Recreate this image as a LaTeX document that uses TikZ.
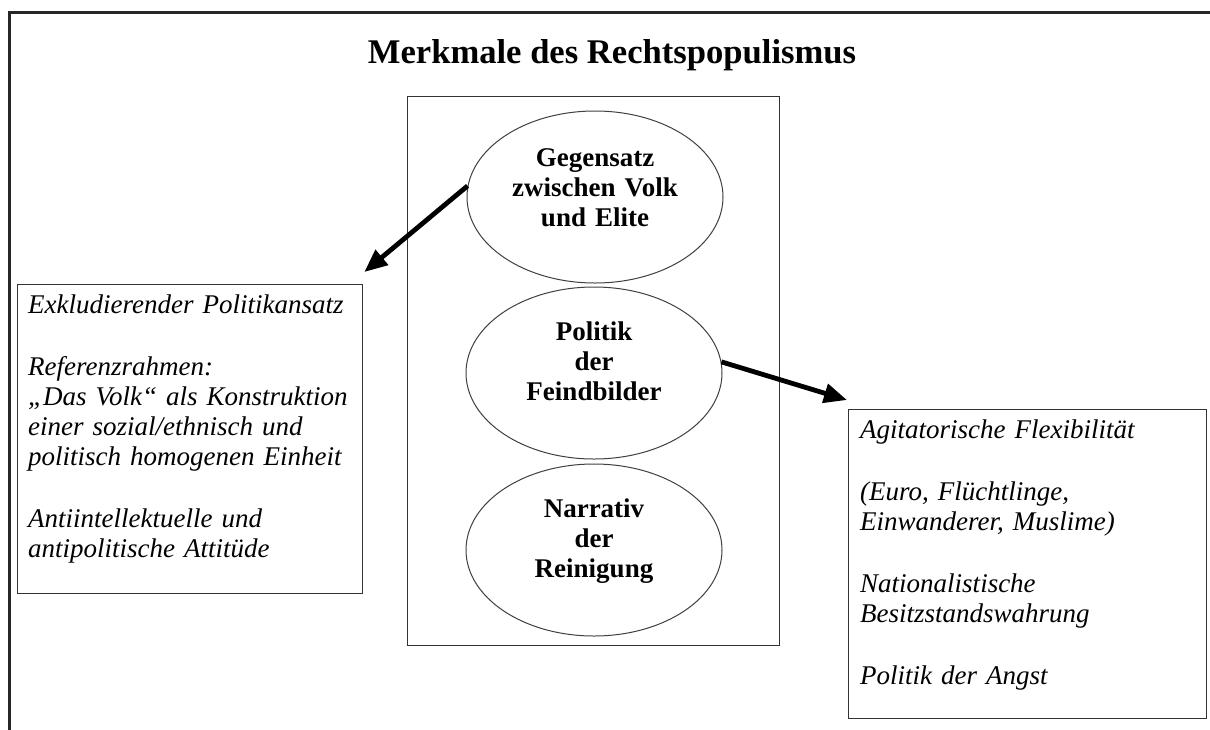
\documentclass[tikz,border=0pt]{standalone}
\usepackage{fontspec}
\setmainfont{Liberation Serif}
\newfontfamily\boxfont{Liberation Serif}[WordSpace={0.6,0.3,0.3}]
\usetikzlibrary{shapes.geometric,arrows.meta,calc}
\begin{document}
\begin{tikzpicture}[x=1pt,y=-1pt,
  frameline/.style={line width=3pt,draw=black!85},
  boxnode/.style={draw=black!80,line width=1.3pt,rectangle,inner sep=0pt},
  ellnode/.style={draw=black!75,line width=1pt,ellipse,inner sep=0pt,minimum width=256pt,minimum height=172pt},
  elltext/.style={font=\fontsize{27}{30}\selectfont\bfseries,text width=250pt,align=center,inner sep=0pt,anchor=base},
  boxtext/.style={font=\boxfont\fontsize{27}{30}\selectfont\itshape,align=left,inner sep=0pt,anchor=base west},
  titletext/.style={font=\fontsize{34.6}{40}\selectfont\bfseries,inner sep=0pt,anchor=base},
  bigarrow/.style={line width=4.8pt,-{Triangle[length=23pt,width=19pt]}}
]
\useasboundingbox (0,0) rectangle (1210,729);
\fill[white] (0,0) rectangle (1210,729);
% outer frame (top and left edges)
\coordinate (ftl) at (9,12);
\coordinate (ftr) at (1212,12);
\coordinate (fbl) at (9,731);
\draw[frameline] (ftr) -- (ftl) -- (fbl);
% title
\node[titletext] (title) at (612,63) {Merkmale des Rechtspopulismus};
% central box
\node[boxnode,minimum width=372pt,minimum height=549pt,anchor=north west] (cbox) at (407,96) {};
% ellipses
\node[ellnode] (e1) at (595,197) {};
\node[ellnode] (e2) at (594,373) {};
\node[ellnode] (e3) at (594,550) {};
\node[elltext] (e1t) at ($(e1.center)+(0,-31)$) {Gegensatz\\zwischen Volk\\und Elite};
\node[elltext] (e2t) at ($(e2.center)+(0,-33)$) {Politik\\der\\Feindbilder};
\node[elltext] (e3t) at ($(e3.center)+(0,-33)$) {Narrativ\\der\\Reinigung};
% left box
\node[boxnode,minimum width=345pt,minimum height=309pt,anchor=north west] (lbox) at (17,284) {};
\node[boxtext,text width=330pt] (ltext) at (28,313) {Exkludierender Politikansatz\\[32pt]Referenzrahmen:\\„Das Volk“ als Konstruktion\\einer sozial/ethnisch und\\politisch homogenen Einheit\\[32pt]Antiintellektuelle und\\antipolitische Attitüde};
% right box
\node[boxnode,minimum width=358pt,minimum height=309pt,anchor=north west] (rbox) at (848,409) {};
\node[boxtext,text width=340pt] (rtext) at (860,438) {Agitatorische Flexibilität\\[32pt](Euro, Flüchtlinge,\\Einwanderer, Muslime)\\[32pt]Nationalistische\\Besitzstandswahrung\\[32pt]Politik der Angst};
% arrows
\coordinate (t1) at ($(lbox.north east)+(1,-12)$);
\coordinate (t2) at ($(rbox.north west)+(-1,-9)$);
\draw[bigarrow] (e1.175) -- (t1);
\draw[bigarrow] (e2.5) -- (t2);
\end{tikzpicture}
\end{document}
